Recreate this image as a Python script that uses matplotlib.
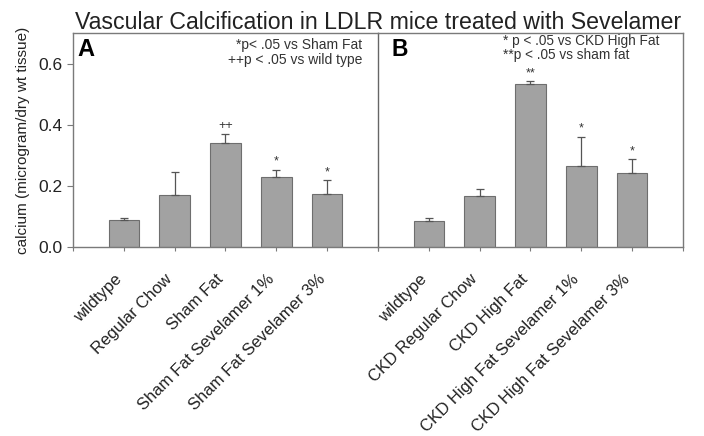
import matplotlib
matplotlib.use("Agg")
import matplotlib.pyplot as plt
import matplotlib.transforms as mtransforms
import numpy as np

plt.rcParams['font.family'] = ['Liberation Sans', 'DejaVu Sans']

# Panel A
labels_a = ['wildtype', 'Regular Chow', 'Sham Fat', 'Sham Fat Sevelamer 1%', 'Sham Fat Sevelamer 3%']
vals_a = [0.087, 0.169, 0.342, 0.228, 0.174]
err_a = [0.007, 0.077, 0.029, 0.025, 0.045]
marks_a = ['', '', '++', '*', '*']

# Panel B
labels_b = ['wildtype', 'CKD Regular Chow', 'CKD High Fat', 'CKD High Fat Sevelamer 1%', 'CKD High Fat Sevelamer 3%']
vals_b = [0.086, 0.166, 0.533, 0.265, 0.243]
err_b = [0.009, 0.025, 0.010, 0.096, 0.044]
marks_b = ['', '', '**', '*', '*']

bar_col = '#a2a2a2'
edge_col = '#6e6e6e'
line_col = '#7a7a7a'

fig = plt.figure(figsize=(7.04, 4.36), dpi=100)
ax_a = fig.add_axes([0.1037, 0.4335, 0.4332, 0.4905])
ax_b = fig.add_axes([0.5369, 0.4335, 0.4332, 0.4905])
ax_b.patch.set_visible(False)

# shift rotated tick labels a little down-left
shift = mtransforms.ScaledTranslation(-0.10, -0.04, fig.dpi_scale_trans)


def draw(ax, labels, vals, errs, marks):
    x = np.arange(1, len(vals) + 1)
    ax.bar(x, vals, width=0.6, color=bar_col, edgecolor=edge_col, linewidth=0.8, zorder=2)
    ax.errorbar(x, vals, yerr=[np.zeros(len(errs)), errs], fmt='none',
                ecolor='#555555', elinewidth=0.9, capsize=3, capthick=0.9, zorder=3)
    for xi, v, e, m in zip(x, vals, errs, marks):
        if m:
            ax.text(xi, v + e + 0.006, m, ha='center', va='bottom', fontsize=9, color='#333333')
    ax.set_xlim(0, 6)
    ax.set_ylim(0, 0.7)
    ax.set_xticks(np.arange(0, 7))
    ax.set_xticklabels([''] + labels + [''], rotation=45, ha='right',
                       rotation_mode='anchor', fontsize=12, color='#222222')
    ax.tick_params(axis='x', length=3, color=line_col, pad=12)
    for lab in ax.get_xticklabels():
        lab.set_transform(lab.get_transform() + shift)
    for s in ax.spines.values():
        s.set_color(line_col)
        s.set_linewidth(1.0)


draw(ax_a, labels_a, vals_a, err_a, marks_a)
draw(ax_b, labels_b, vals_b, err_b, marks_b)

ax_a.set_yticks([0.0, 0.2, 0.4, 0.6])
ax_a.set_yticklabels(['0.0', '0.2', '0.4', '0.6'], fontsize=12.5, color='#222222')
ax_a.tick_params(axis='y', length=4, color=line_col)
ax_a.set_ylabel('calcium (microgram/dry wt tissue)', fontsize=11, color='#222222', labelpad=6)
ax_b.set_yticks([])
ax_b.spines['left'].set_visible(False)
ax_a.spines['right'].set_color('#666666')

ax_a.text(0.016, 0.977, 'A', transform=ax_a.transAxes, fontsize=17, fontweight='bold',
          ha='left', va='top')
ax_b.text(0.045, 0.977, 'B', transform=ax_b.transAxes, fontsize=16.5, fontweight='bold',
          ha='left', va='top')

ax_a.text(0.948, 0.944, '*p< .05 vs Sham Fat', transform=ax_a.transAxes,
          fontsize=10, ha='right', va='center', color='#333333')
ax_a.text(0.948, 0.874, '++p < .05 vs wild type', transform=ax_a.transAxes,
          fontsize=10, ha='right', va='center', color='#333333')
ax_b.text(0.41, 0.965, '* p < .05 vs CKD High Fat', transform=ax_b.transAxes,
          fontsize=9.8, ha='left', va='center', color='#333333')
ax_b.text(0.41, 0.900, '**p < .05 vs sham fat', transform=ax_b.transAxes,
          fontsize=9.8, ha='left', va='center', color='#333333')

fig.text(0.537, 1 - 29 / 436, 'Vascular Calcification in LDLR mice treated with Sevelamer',
         ha='center', va='baseline', fontsize=16.7, color='#222222')

fig.savefig('out.png', dpi=100)
